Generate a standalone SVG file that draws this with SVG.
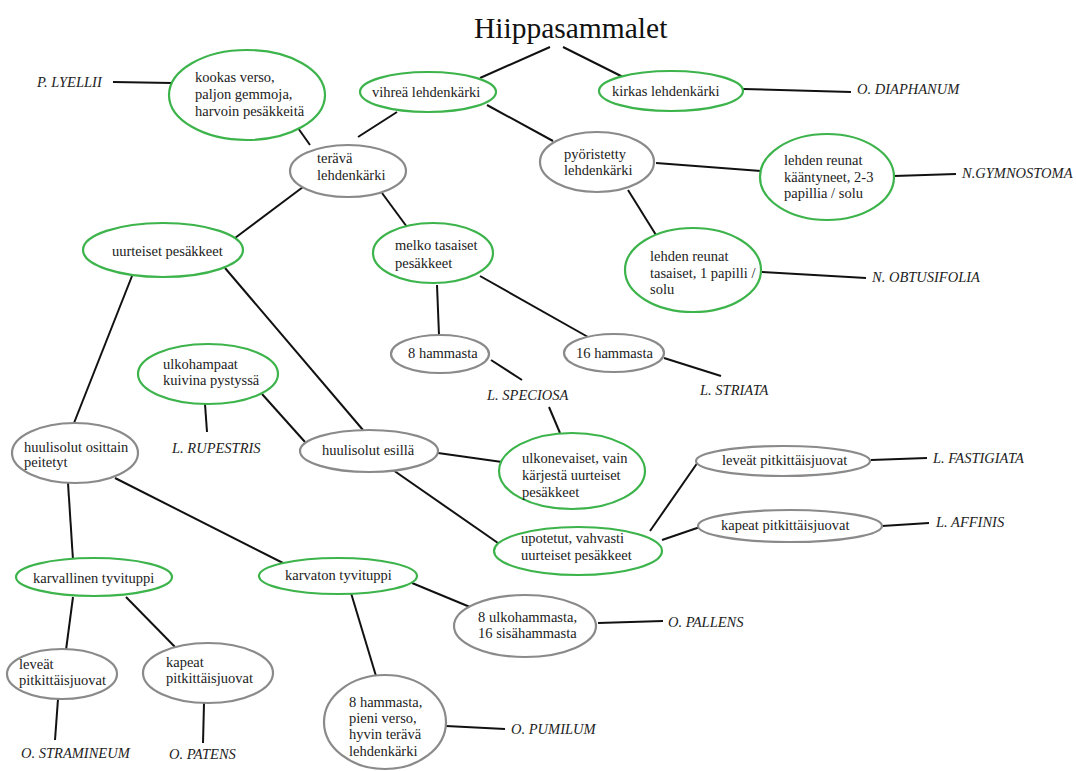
<svg xmlns="http://www.w3.org/2000/svg" width="1076" height="771" viewBox="0 0 1076 771">
<style>
text{font-family:"Liberation Serif","DejaVu Serif",serif;font-size:14.5px;fill:#222}
.t{font-size:29.5px;fill:#111}
.sp{font-style:italic}
.g{fill:#fff;stroke:#3cb44b;stroke-width:2.2}
.y{fill:#fff;stroke:#8a8a8a;stroke-width:2.2}
#edges line{stroke:#111;stroke-width:2}
</style>
<rect width="1076" height="771" fill="#fff"/>
<g id="edges">
<line x1="550" y1="47" x2="480" y2="78"/>
<line x1="563" y1="47" x2="623" y2="77"/>
<line x1="743" y1="89" x2="851" y2="92"/>
<line x1="397" y1="112" x2="358" y2="137"/>
<line x1="487" y1="105" x2="553" y2="141"/>
<line x1="113" y1="82" x2="172" y2="83"/>
<line x1="298" y1="128" x2="310" y2="145"/>
<line x1="303" y1="187" x2="235" y2="238"/>
<line x1="382" y1="193" x2="407" y2="227"/>
<line x1="656" y1="163" x2="761" y2="171"/>
<line x1="894" y1="176" x2="956" y2="174"/>
<line x1="628" y1="190" x2="656" y2="235"/>
<line x1="762" y1="272" x2="866" y2="278"/>
<line x1="437" y1="285" x2="439" y2="335"/>
<line x1="480" y1="276" x2="588" y2="337"/>
<line x1="491" y1="360" x2="522" y2="380"/>
<line x1="664" y1="358" x2="721" y2="376"/>
<line x1="549" y1="407" x2="560" y2="433"/>
<line x1="132" y1="276" x2="74" y2="423"/>
<line x1="225" y1="268" x2="363" y2="430"/>
<line x1="205" y1="404" x2="207" y2="432"/>
<line x1="262" y1="394" x2="305" y2="442"/>
<line x1="438" y1="453" x2="502" y2="462"/>
<line x1="393" y1="470" x2="498" y2="543"/>
<line x1="650" y1="531" x2="698" y2="462"/>
<line x1="871" y1="460" x2="927" y2="458"/>
<line x1="662" y1="540" x2="700" y2="527"/>
<line x1="882" y1="526" x2="929" y2="523"/>
<line x1="68" y1="483" x2="73" y2="560"/>
<line x1="115" y1="478" x2="285" y2="564"/>
<line x1="73" y1="597" x2="66" y2="650"/>
<line x1="126" y1="597" x2="175" y2="647"/>
<line x1="58" y1="699" x2="55" y2="740"/>
<line x1="204" y1="703" x2="203" y2="743"/>
<line x1="412" y1="583" x2="470" y2="607"/>
<line x1="598" y1="623" x2="663" y2="621"/>
<line x1="351" y1="593" x2="376" y2="676"/>
<line x1="446" y1="726" x2="505" y2="729"/>
</g>
<g id="title"><text class="t" x="474" y="38">Hiippasammalet</text></g>
<g id="n-vihrea"><ellipse class="g" cx="428" cy="92" rx="68" ry="20"/><text x="372" y="97">vihreä lehdenkärki</text></g>
<g id="n-kirkas"><ellipse class="g" cx="671" cy="91" rx="72" ry="20"/><text x="612" y="96">kirkas lehdenkärki</text></g>
<g id="s-diaphanum"><text class="sp" x="857" y="94">O. DIAPHANUM</text></g>
<g id="n-kookas"><ellipse class="g" cx="247" cy="95" rx="78" ry="45"/><text x="195" y="82">kookas verso,</text><text x="195" y="99">paljon gemmoja,</text><text x="195" y="116">harvoin pesäkkeitä</text></g>
<g id="s-lyellii"><text class="sp" x="37" y="87">P. LYELLII</text></g>
<g id="n-terava"><ellipse class="y" cx="348" cy="171" rx="58" ry="26"/><text x="317" y="163">terävä</text><text x="317" y="180">lehdenkärki</text></g>
<g id="n-pyoristetty"><ellipse class="y" cx="597" cy="162" rx="57" ry="30"/><text x="564" y="159">pyöristetty</text><text x="564" y="175">lehdenkärki</text></g>
<g id="n-kaantyneet"><ellipse class="g" cx="827" cy="177" rx="67" ry="43"/><text x="784" y="165">lehden reunat</text><text x="784" y="182">kääntyneet, 2-3</text><text x="784" y="198">papillia / solu</text></g>
<g id="s-gymnostoma"><text class="sp" x="962" y="178">N.GYMNOSTOMA</text></g>
<g id="n-tasaiset"><ellipse class="g" cx="693" cy="270" rx="68" ry="42"/><text x="650" y="261">lehden reunat</text><text x="650" y="278">tasaiset, 1 papilli /</text><text x="650" y="294">solu</text></g>
<g id="s-obtusifolia"><text class="sp" x="872" y="282">N. OBTUSIFOLIA</text></g>
<g id="n-uurteiset"><ellipse class="g" cx="163" cy="250" rx="80" ry="27"/><text x="112" y="256">uurteiset pesäkkeet</text></g>
<g id="n-melko"><ellipse class="g" cx="433" cy="253" rx="60" ry="30"/><text x="395" y="250">melko tasaiset</text><text x="395" y="268">pesäkkeet</text></g>
<g id="n-8hammasta"><ellipse class="y" cx="440" cy="354" rx="49" ry="19"/><text x="408" y="358">8 hammasta</text></g>
<g id="n-16hammasta"><ellipse class="y" cx="614" cy="353" rx="50" ry="19"/><text x="576" y="358">16 hammasta</text></g>
<g id="s-speciosa"><text class="sp" x="487" y="400">L. SPECIOSA</text></g>
<g id="s-striata"><text class="sp" x="700" y="395">L. STRIATA</text></g>
<g id="n-ulkohampaat"><ellipse class="g" cx="208" cy="374" rx="70" ry="30"/><text x="163" y="369">ulkohampaat</text><text x="163" y="385">kuivina pystyssä</text></g>
<g id="s-rupestris"><text class="sp" x="172" y="453">L. RUPESTRIS</text></g>
<g id="n-osittain"><ellipse class="y" cx="75" cy="453" rx="63" ry="30"/><text x="24" y="452">huulisolut osittain</text><text x="24" y="467">peitetyt</text></g>
<g id="n-esilla"><ellipse class="y" cx="369" cy="451" rx="69" ry="21"/><text x="322" y="455">huulisolut esillä</text></g>
<g id="n-ulkonevaiset"><ellipse class="g" cx="572" cy="471" rx="73" ry="38"/><text x="522" y="463">ulkonevaiset, vain</text><text x="522" y="480">kärjestä uurteiset</text><text x="522" y="497">pesäkkeet</text></g>
<g id="n-upotetut"><ellipse class="g" cx="578" cy="551" rx="84" ry="24"/><text x="521" y="543">upotetut, vahvasti</text><text x="521" y="560">uurteiset pesäkkeet</text></g>
<g id="n-levat1"><ellipse class="y" cx="783" cy="461" rx="87" ry="15"/><text x="722" y="465">leveät pitkittäisjuovat</text></g>
<g id="s-fastigiata"><text class="sp" x="933" y="463">L. FASTIGIATA</text></g>
<g id="n-kapeat1"><ellipse class="y" cx="790" cy="526" rx="92" ry="16"/><text x="721" y="530">kapeat pitkittäisjuovat</text></g>
<g id="s-affinis"><text class="sp" x="936" y="527">L. AFFINIS</text></g>
<g id="n-karvallinen"><ellipse class="g" cx="94" cy="577" rx="78" ry="19"/><text x="33" y="583">karvallinen tyvituppi</text></g>
<g id="n-karvaton"><ellipse class="g" cx="338" cy="576" rx="79" ry="18"/><text x="285" y="580">karvaton tyvituppi</text></g>
<g id="n-levat2"><ellipse class="y" cx="62" cy="674" rx="55" ry="25"/><text x="19" y="669">leveät</text><text x="19" y="685">pitkittäisjuovat</text></g>
<g id="n-kapeat2"><ellipse class="y" cx="208" cy="673" rx="65" ry="30"/><text x="166" y="667">kapeat</text><text x="166" y="683">pitkittäisjuovat</text></g>
<g id="s-stramineum"><text class="sp" x="21" y="758">O. STRAMINEUM</text></g>
<g id="s-patens"><text class="sp" x="169" y="759">O. PATENS</text></g>
<g id="n-ulkohammasta"><ellipse class="y" cx="525" cy="626" rx="71" ry="31"/><text x="478" y="622">8 ulkohammasta,</text><text x="478" y="638">16 sisähammasta</text></g>
<g id="s-pallens"><text class="sp" x="668" y="627">O. PALLENS</text></g>
<g id="n-pieni"><ellipse class="y" cx="385" cy="722" rx="61" ry="47"/><text x="349" y="707">8 hammasta,</text><text x="349" y="723">pieni verso,</text><text x="349" y="739">hyvin terävä</text><text x="349" y="756">lehdenkärki</text></g>
<g id="s-pumilum"><text class="sp" x="511" y="734">O. PUMILUM</text></g>
</svg>
